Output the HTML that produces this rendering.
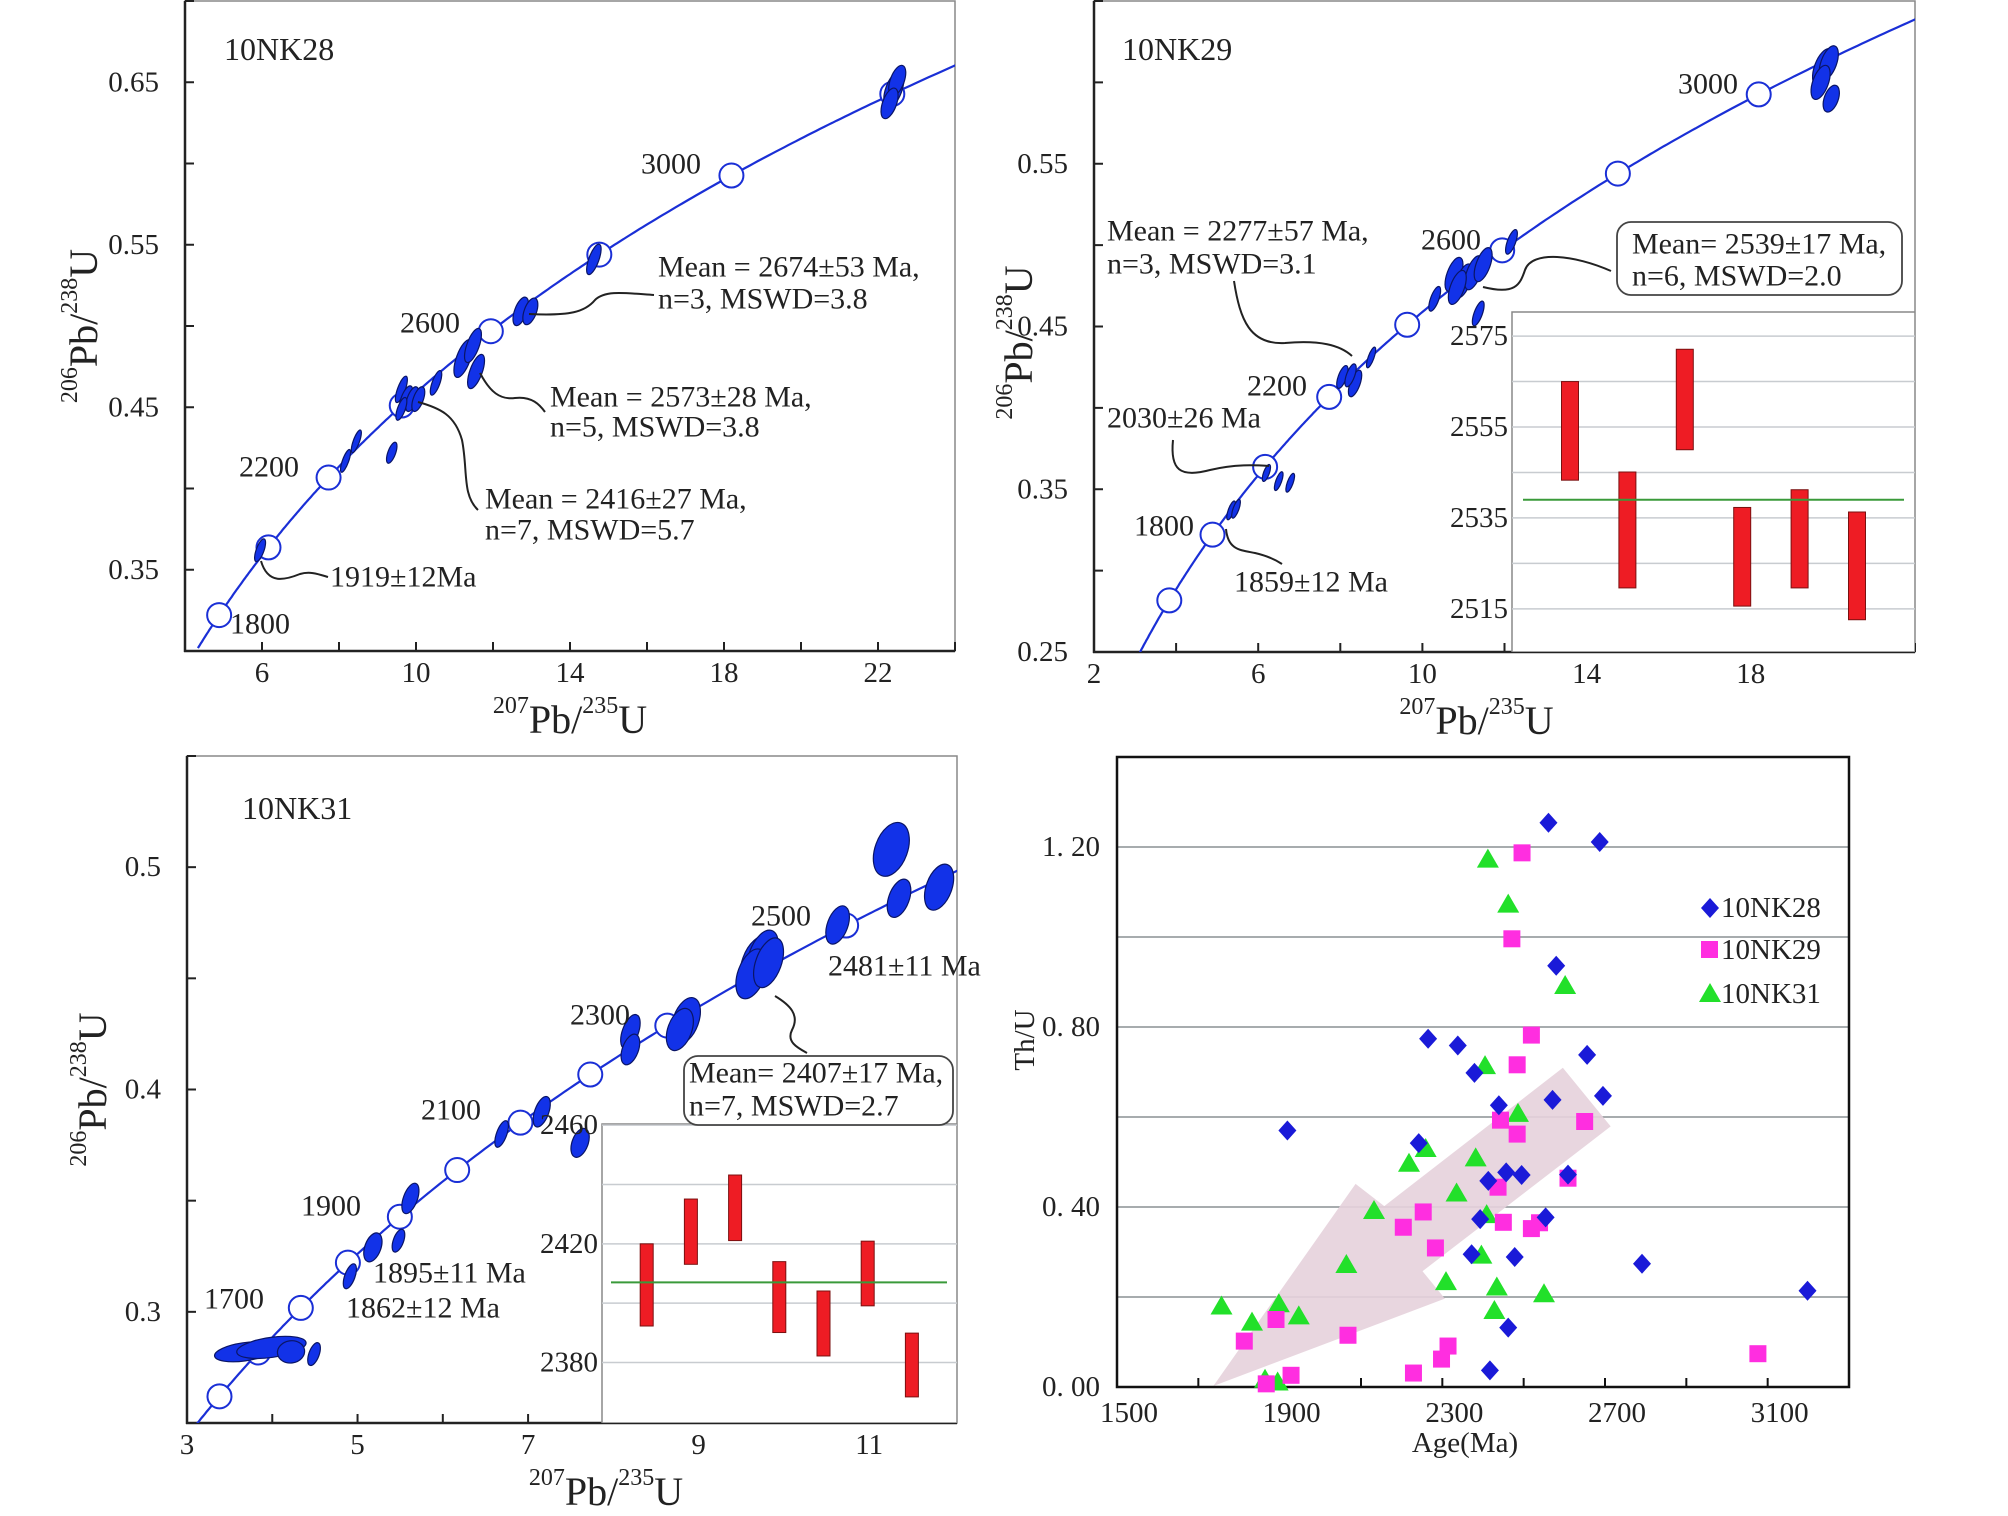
<!DOCTYPE html>
<html><head><meta charset="utf-8"><style>
body{margin:0;background:#fff;}
svg text{font-family:"Liberation Serif",serif;fill:#222;}
</style></head><body>
<svg id="s" width="2008" height="1511" viewBox="0 0 2008 1511" xmlns="http://www.w3.org/2000/svg"></svg>
<script>
// ---------- data ----------
const p1Ages = [1800,2000,2200,2400,2600,2800,3000,3200];
const p1AgeLabels = [1800,2200,2600,3000];
const p1XTicks = [6,10,14,18,22];
const p1YTicks = [0.35,0.45,0.55,0.65];
const p1EllX = [22.41,22.5,22.3,14.62,12.72,12.97,11.23,11.48,11.56,9.62,9.74,9.9,10.06,9.62,10.52,8.45,8.17,9.37,5.95];
const p1EllY = [0.6455,0.651,0.637,0.541,0.509,0.509,0.480,0.488,0.472,0.461,0.455,0.455,0.455,0.449,0.465,0.429,0.417,0.422,0.362];
const p1ErrX = [0.21,0.18,0.18,0.13,0.16,0.16,0.18,0.16,0.16,0.10,0.13,0.13,0.13,0.10,0.10,0.08,0.08,0.10,0.10];
const p1ErrY = [0.0117,0.0099,0.0099,0.0099,0.0092,0.0086,0.0123,0.0111,0.0111,0.0086,0.0086,0.008,0.008,0.0074,0.008,0.0074,0.0074,0.0068,0.0074];

const p2Ages = [1600,1800,2000,2200,2400,2600,2800,3000];
const p2AgeLabels = [1800,2200,2600,3000];
const p2XTicks = [2,6,10,14,18];
const p2YTicks = [0.25,0.35,0.45,0.55];
const p2EllX = [19.77,19.9,19.7,19.96,12.17,10.77,11.0,11.25,11.48,10.85,11.36,10.3,8.75,8.05,8.36,8.25,6.5,6.78,6.2,5.34,5.46];
const p2EllY = [0.609,0.612,0.600,0.590,0.502,0.482,0.478,0.483,0.488,0.474,0.458,0.467,0.431,0.419,0.415,0.42,0.355,0.354,0.36,0.337,0.338];
const p2ErrX = [0.22,0.19,0.19,0.17,0.10,0.17,0.17,0.17,0.17,0.17,0.10,0.10,0.07,0.10,0.12,0.10,0.07,0.07,0.07,0.07,0.07];
const p2ErrY = [0.0123,0.011,0.011,0.0086,0.008,0.011,0.011,0.011,0.011,0.011,0.008,0.008,0.0067,0.0074,0.0086,0.0074,0.0061,0.0061,0.0055,0.0061,0.0061];
const p2BarLo = [2543.3,2519.6,2550.0,2515.6,2519.6,2512.6];
const p2BarHi = [2565.0,2545.1,2572.1,2537.3,2541.2,2536.3];
const p2Mean = 2539;
const p2InsetTicks = [2515,2535,2555,2575];

const p3Ages = [1500,1600,1700,1800,1900,2000,2100,2200,2300,2400,2500];
const p3AgeLabels = [1700,1900,2100,2300,2500];
const p3XTicks = [3,5,7,9,11];
const p3YTicks = [0.3,0.4,0.5];
const p3EllX = [11.26,11.35,11.82,10.63,9.69,9.75,9.62,9.82,8.85,8.78,8.2,8.2,7.16,6.69,7.61,5.62,5.18,5.48,4.91,3.67,3.99,4.22,4.49];
const p3EllY = [0.508,0.486,0.491,0.474,0.457,0.46,0.452,0.457,0.431,0.427,0.426,0.418,0.390,0.380,0.376,0.351,0.329,0.332,0.316,0.282,0.284,0.282,0.281];
const p3ErrX = [0.19,0.12,0.15,0.12,0.18,0.16,0.16,0.15,0.15,0.14,0.094,0.094,0.082,0.06,0.094,0.082,0.094,0.06,0.06,0.35,0.41,0.16,0.06];
const p3ErrY = [0.0126,0.009,0.0108,0.009,0.0126,0.0122,0.0117,0.0117,0.0108,0.0099,0.0081,0.0072,0.0072,0.0063,0.0068,0.0072,0.0068,0.0054,0.0059,0.0041,0.0045,0.005,0.0054];
const p3BarLo = [2392.3,2413.1,2421.1,2390.1,2382.2,2399.1,2368.4];
const p3BarHi = [2420.0,2435.1,2443.2,2414.0,2404.1,2420.9,2389.9];
const p3Mean = 2407;
const p3InsetTicks = [2380,2420,2460];

const p4XTicks = [1500,1900,2300,2700,3100];
const p4YTicks = [0,0.4,0.8,1.2];
const nk28Age = [2561,2687,2580,2265,2338,2379,2656,2571,2695,2439,1919,2242,2413,2457,2495,2609,2393,2554,2372,2478,2791,2462,2417,3198];
const nk28Th = [1.254,1.211,0.936,0.774,0.759,0.698,0.738,0.638,0.647,0.626,0.570,0.542,0.458,0.477,0.471,0.472,0.373,0.377,0.295,0.289,0.274,0.132,0.037,0.214];
const nk29Age = [2496,2471,2519,2484,2443,2484,2650,2609,2437,2253,2204,2450,2519,2539,2283,1891,1813,2068,2314,2298,2229,1928,1867,3076];
const nk29Th = [1.187,0.996,0.782,0.716,0.593,0.562,0.590,0.464,0.444,0.389,0.355,0.366,0.352,0.365,0.309,0.150,0.102,0.115,0.091,0.062,0.031,0.026,0.007,0.074];
const nk31Age = [2412,2462,2602,2405,2486,2382,2259,2218,2335,2132,2409,2396,2064,2309,2434,2550,2428,1757,1898,1947,1832,1864,1895];
const nk31Th = [1.172,1.072,0.891,0.713,0.607,0.508,0.529,0.496,0.430,0.391,0.382,0.292,0.271,0.233,0.221,0.206,0.169,0.179,0.184,0.157,0.143,0.016,0.010];

// ---------- helpers ----------
const S = document.getElementById('s');
const NS = 'http://www.w3.org/2000/svg';
const FA = 30, FT = 29;
function el(tag, attrs, parent){
  const e = document.createElementNS(NS, tag);
  for (const k in attrs) e.setAttribute(k, attrs[k]);
  (parent||S).appendChild(e);
  return e;
}
function lin(d0,d1,p0,p1){ return v => p0 + (v-d0)/(d1-d0)*(p1-p0); }
const L238 = 1.55125e-10, L235 = 9.8485e-10;
function c206(t){ return Math.exp(L238*t*1e6)-1; }
function c207(t){ return Math.exp(L235*t*1e6)-1; }

function txt(x,y,s,size,anchor,parent,name){
  const t = el('text',{x:x,y:y,'font-size':size,'text-anchor':anchor||'start','dominant-baseline':'central'},parent);
  t.textContent = s;
  
  
  return t;
}
function axisTitle(x,y,rot,parent,name,mass1,mass2){
  const t = el('text',{x:x,y:y,'font-size':40,'text-anchor':'middle','dominant-baseline':'central',transform: rot?`rotate(-90 ${x} ${y})`:''},parent);
  
  
  const parts = [[mass1,true],['Pb/',false],[mass2,true],['U',false]];
  parts.forEach(p=>{
    const ts = el('tspan',{},t);
    if(p[1]){ ts.setAttribute('font-size','24'); ts.setAttribute('baseline-shift','super'); }
    ts.textContent = p[0];
  });
}

function concordiaPanel(cfg){
  const g = el('g',{});
  
  
  const X = lin(cfg.xr[0],cfg.xr[1],cfg.box[0],cfg.box[2]);
  const Y = lin(cfg.yr[0],cfg.yr[1],cfg.box[3],cfg.box[1]);
  const [l,t,r,b] = cfg.box;
  const clipId = cfg.name+'-clip';
  const cp = el('clipPath',{id:clipId},g);
  el('rect',{x:l,y:t,width:r-l,height:b-t},cp);
  const fr = el('rect',{x:l,y:t,width:r-l,height:b-t,fill:'none',stroke:'#888','stroke-width':1.5},g);
  
  
  el('line',{x1:l,y1:t,x2:l,y2:b+1,stroke:'#222','stroke-width':2.5},g);
  el('line',{x1:l-1,y1:b,x2:r,y2:b,stroke:'#222','stroke-width':2.5},g);
  for(let v=cfg.xr[0]; v<=cfg.xr[1]+1e-9; v+=cfg.xMinor){
    const tk = el('line',{x1:X(v),y1:b,x2:X(v),y2:b-9,stroke:'#222','stroke-width':2},g);
    
    
  }
  for(let v=cfg.yr[0]; v<=cfg.yr[1]+1e-9; v+=0.05){
    const tk = el('line',{x1:l,y1:Y(v),x2:l+9,y2:Y(v),stroke:'#222','stroke-width':2},g);
    
    
  }
  cfg.xTicks.forEach(v=>txt(X(v),b+22,String(v),FT,'middle',g,'x-tick-label'));
  cfg.yTicks.forEach(v=>txt(l-26,Y(v),cfg.yFmt(v),FT,'end',g,'y-tick-label'));
  axisTitle((l+r)/2+cfg.xtOff, b+68, false, g, 'x-axis-title','207','235');
  axisTitle(cfg.ytX, (t+b)/2+cfg.ytOff, true, g, 'y-axis-title','206','238');
  txt(cfg.title[0],cfg.title[1],cfg.name,32,'start',g,'panel-title');

  const pg = el('g',{'clip-path':`url(#${clipId})`},g);
  if(cfg.inset){
    const ins = cfg.inset;
    const ig = el('g',{},pg);
    
    
    const [il,it,ir,ib] = ins.box;
    el('rect',{x:il,y:it,width:ir-il,height:ib-it,fill:'#fff',stroke:'#888','stroke-width':1.5},ig);
    const IY = lin(ins.yr[0],ins.yr[1],ib,it);
    for(let v=ins.gridStart; v<=ins.yr[1]; v+=ins.gridStep){
      const gl = el('line',{x1:il,y1:IY(v),x2:ir,y2:IY(v),stroke:'#c8ccd0','stroke-width':1.5},ig);
      
      
    }
    ins.lo.forEach((lo,i)=>{
      const hi = ins.hi[i];
      const cx = ins.x0 + i*ins.dx;
      const bar = el('rect',{x:cx-ins.w/2,y:IY(hi),width:ins.w,height:IY(lo)-IY(hi),fill:'#ee1c24',stroke:'#7a1010','stroke-width':1},ig);
      
      
    });
    const ml = el('line',{x1:ins.mx[0],y1:IY(ins.mean),x2:ins.mx[1],y2:IY(ins.mean),stroke:'#3a9a3a','stroke-width':2},ig);
    
    
    ins.ticks.forEach(v=>txt(il-4,IY(v),String(v),FT,'end',g,'inset-tick-label'));
  }
  let d='';
  for(let a=cfg.ageRange[0]; a<=cfg.ageRange[1]; a+=5){
    d += (d?'L':'M')+X(c207(a)).toFixed(1)+','+Y(c206(a)).toFixed(1);
  }
  const cc = el('path',{d:d,fill:'none',stroke:'#1a2fd6','stroke-width':2.2},pg);
  
  
  cfg.ages.forEach(a=>{
    const c = el('circle',{cx:X(c207(a)),cy:Y(c206(a)),r:12,fill:'#fff',stroke:'#1a2fd6','stroke-width':2},pg);
    
    
  });
  const kx = (cfg.box[2]-cfg.box[0])/(cfg.xr[1]-cfg.xr[0]);
  const ky = (cfg.box[3]-cfg.box[1])/(cfg.yr[1]-cfg.yr[0]);
  cfg.ex.forEach((x,i)=>{
    const rx = cfg.erx[i]*kx, ry = cfg.ery[i]*ky;
    const ang = rx>ry ? -8 : 20;
    const e = el('ellipse',{cx:X(x),cy:Y(cfg.ey[i]),rx:rx,ry:ry,fill:'#1232e8',stroke:'#0a1566','stroke-width':1.2,transform:`rotate(${ang} ${X(x)} ${Y(cfg.ey[i])})`},pg);
    
    
  });
  cfg.ageLabels.forEach((a,i)=>txt(cfg.ageLabelPos[i][0],cfg.ageLabelPos[i][1],String(a),FA,'start',g,'age-label'));
  return g;
}
function leader(d,name){
  const p = el('path',{d:d,fill:'none',stroke:'#222','stroke-width':2});
  
  
}
function box(x,y,w,h,name){
  const r = el('rect',{x:x,y:y,width:w,height:h,rx:14,fill:'#fff',stroke:'#444','stroke-width':1.8});
  
  
}

// ---------- panel 1 ----------
concordiaPanel({name:'10NK28',box:[185,1,955,651],xr:[4,24],yr:[0.30,0.70],xMinor:2,
  xTicks:p1XTicks,yTicks:p1YTicks,yFmt:v=>v.toFixed(2),xtOff:0,ytX:83,ytOff:0,title:[224,49],
  ages:p1Ages,ageRange:[1700,3400],ex:p1EllX,ey:p1EllY,erx:p1ErrX,ery:p1ErrY,
  ageLabels:p1AgeLabels,ageLabelPos:[[230,624],[239,467],[400,323],[641,164]]});
leader('M529,314 C570,316 585,312 595,300 C605,290 625,293 654,295','leader-2674');
leader('M480,373 C490,392 500,400 515,398 C532,396 540,405 545,412','leader-2573');
leader('M418,402 C440,408 455,415 462,440 C468,470 462,495 478,510','leader-2416');
leader('M261,561 C268,585 285,580 300,574 C310,571 318,574 328,577','leader-1919');
txt(658,267,'Mean = 2674±53 Ma,',FA,'start',S,'annotation');
txt(658,299,'n=3, MSWD=3.8',FA,'start',S,'annotation');
txt(550,397,'Mean = 2573±28 Ma,',FA,'start',S,'annotation');
txt(550,427,'n=5, MSWD=3.8',FA,'start',S,'annotation');
txt(485,499,'Mean = 2416±27 Ma,',FA,'start',S,'annotation');
txt(485,530,'n=7, MSWD=5.7',FA,'start',S,'annotation');
txt(330,577,'1919±12Ma',FA,'start',S,'annotation');

// ---------- panel 2 ----------
concordiaPanel({name:'10NK29',box:[1094,1,1915,652],xr:[2,22],yr:[0.25,0.65],xMinor:2,
  xTicks:p2XTicks,yTicks:p2YTicks,yFmt:v=>v.toFixed(2),xtOff:-28,ytX:1018,ytOff:16,title:[1122,49],
  ages:p2Ages,ageRange:[1400,3400],ex:p2EllX,ey:p2EllY,erx:p2ErrX,ery:p2ErrY,
  ageLabels:p2AgeLabels,ageLabelPos:[[1134,526],[1247,386],[1421,240],[1678,84]],
  inset:{box:[1512,312,1915,652],yr:[2505.5,2580.3],gridStart:2515,gridStep:10,lo:p2BarLo,hi:p2BarHi,
    x0:1570,dx:57.4,w:17,mean:p2Mean,mx:[1523,1904],ticks:p2InsetTicks}});
box(1617,222,285,73,'mean-box-2539');
txt(1632,244,'Mean= 2539±17 Ma,',FA,'start',S,'annotation');
txt(1632,276,'n=6, MSWD=2.0',FA,'start',S,'annotation');
leader('M1483,287 C1515,295 1520,285 1525,270 C1532,250 1575,255 1611,271','leader-2539');
leader('M1234,281 C1240,320 1250,345 1285,343 C1320,340 1340,345 1352,356','leader-2277');
leader('M1173,440 C1170,470 1180,478 1210,470 C1235,464 1255,465 1269,466','leader-2030');
leader('M1226,529 C1228,550 1240,550 1255,553 C1268,556 1276,560 1282,564','leader-1859');
txt(1107,231,'Mean = 2277±57 Ma,',FA,'start',S,'annotation');
txt(1107,264,'n=3, MSWD=3.1',FA,'start',S,'annotation');
txt(1107,418,'2030±26 Ma',FA,'start',S,'annotation');
txt(1234,582,'1859±12 Ma',FA,'start',S,'annotation');

// ---------- panel 3 ----------
concordiaPanel({name:'10NK31',box:[187,756,957,1423],xr:[3,12.03],yr:[0.25,0.55],xMinor:1,
  xTicks:p3XTicks,yTicks:p3YTicks,yFmt:v=>String(v),xtOff:34,ytX:92,ytOff:0,title:[242,808],
  ages:p3Ages,ageRange:[1400,2700],ex:p3EllX,ey:p3EllY,erx:p3ErrX,ery:p3ErrY,
  ageLabels:p3AgeLabels,ageLabelPos:[[204,1299],[301,1206],[421,1110],[570,1015],[751,916]],
  inset:{box:[602,1124,957,1423],yr:[2359.6,2460.4],gridStart:2380,gridStep:20,lo:p3BarLo,hi:p3BarHi,
    x0:646.7,dx:44.2,w:13,mean:p3Mean,mx:[611,947],ticks:p3InsetTicks}});
box(684,1056,269,69,'mean-box-2407');
txt(689,1073,'Mean= 2407±17 Ma,',FA,'start',S,'annotation');
txt(689,1106,'n=7, MSWD=2.7',FA,'start',S,'annotation');
leader('M775,996 C790,1005 800,1015 792,1030 C786,1042 798,1048 807,1053','leader-2407');
txt(828,966,'2481±11 Ma',FA,'start',S,'annotation');
txt(373,1273,'1895±11 Ma',FA,'start',S,'annotation');
txt(346,1308,'1862±12 Ma',FA,'start',S,'annotation');

// ---------- panel 4 ----------
(function(){
  const l=1117,t=757,r=1849,b=1387;
  const g = el('g',{});
  
  
  const X = lin(1500,3300,l,r), Y = lin(0,1.4,b,t);
  for(let v=0.2; v<1.39; v+=0.2){
    const gl = el('line',{x1:l,y1:Y(v),x2:r,y2:Y(v),stroke:'#8a9094','stroke-width':1.5},g);
    
    
  }
  const A = [[322,1372],[545,1055],[590,1090],[870,873],[945,965],[650,1192],[685,1235]].map(p=>[p[0]/1.568+1008,p[1]/1.568+511]);
  const ar = el('polygon',{points:A.map(p=>p.join(',')).join(' '),fill:'#e6d2dc',opacity:0.9},g);
  
  
  const fr = el('rect',{x:l,y:t,width:r-l,height:b-t,fill:'none',stroke:'#111','stroke-width':2.5},g);
  
  
  for(let v=1500; v<=3300; v+=200){
    const tk = el('line',{x1:X(v),y1:b,x2:X(v),y2:b-9,stroke:'#111','stroke-width':2},g);
    
    
  }
  p4XTicks.forEach(v=>txt(X(v)+12,b+26,String(v),FT,'middle',g,'x-tick-label'));
  p4YTicks.forEach(v=>txt(l-17,Y(v),v.toFixed(2).replace('.','. '),FT,'end',g,'y-tick-label'));
  txt((l+r)/2-18,b+56,'Age(Ma)',FT,'middle',g,'x-axis-title');
  const yt = txt(1025,1040,'Th/U',FT,'middle',g,'y-axis-title');
  yt.setAttribute('transform','rotate(-90 1025 1040)');
  nk31Age.forEach((a,i)=>{
    const x=X(a), y=Y(nk31Th[i]);
    const p = el('polygon',{points:`${x},${y-11} ${x-11},${y+8} ${x+11},${y+8}`,fill:'#22e02a'},g);
    
    
  });
  nk29Age.forEach((a,i)=>{
    const x=X(a), y=Y(nk29Th[i]);
    const p = el('rect',{x:x-8.5,y:y-8.5,width:17,height:17,fill:'#ff2ee0'},g);
    
    
  });
  nk28Age.forEach((a,i)=>{
    const x=X(a), y=Y(nk28Th[i]);
    const p = el('polygon',{points:`${x},${y-10} ${x+9},${y} ${x},${y+10} ${x-9},${y}`,fill:'#1a1ad8'},g);
    
    
  });
  const lg = el('g',{},g);
  
  
  const m1 = el('polygon',{points:'1710,898 1719,908 1710,918 1701,908',fill:'#1a1ad8'},lg);
  
  
  const m2 = el('rect',{x:1701,y:941,width:17,height:17,fill:'#ff2ee0'},lg);
  
  
  const m3 = el('polygon',{points:'1710,983 1699,1002 1721,1002',fill:'#22e02a'},lg);
  
  
  txt(1721,908,'10NK28',FT,'start',lg,'legend-entry');
  txt(1721,950,'10NK29',FT,'start',lg,'legend-entry');
  txt(1721,994,'10NK31',FT,'start',lg,'legend-entry');
})();
</script>
</body></html>
